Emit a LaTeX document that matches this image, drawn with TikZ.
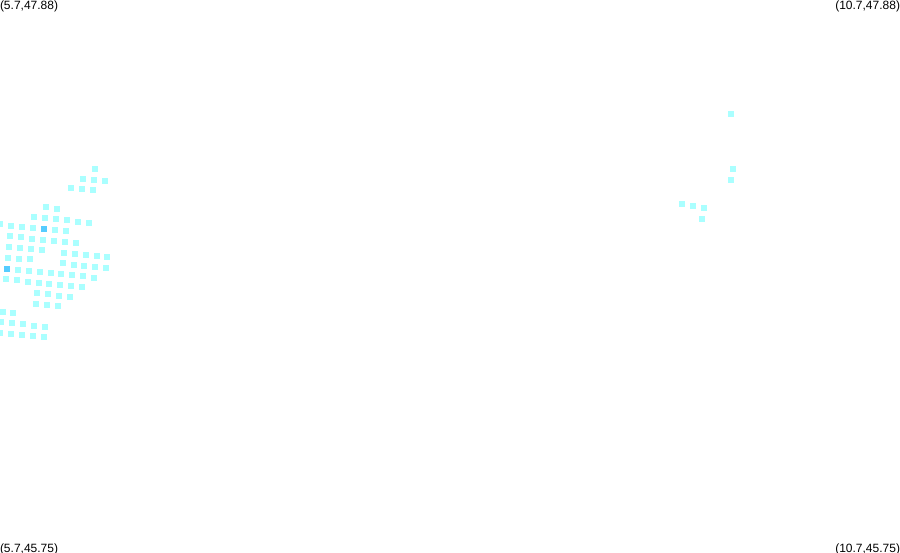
\documentclass[tikz,border=0pt]{standalone}
\usepackage{fontspec}
\setmainfont{Liberation Sans}
\definecolor{cellLight}{HTML}{AAFFFF}
\definecolor{cellDark}{HTML}{55CCFF}
\tikzset{
  cell/.style={fill=cellLight,draw=none},
  darkcell/.style={fill=cellDark,draw=none},
  corner/.style={inner sep=0pt,outer sep=0pt,font=\fontsize{12pt}{12pt}\selectfont,text=black}
}
\newcommand{\cellAt}[3][cell]{\fill[#1] (#2-3,#3-3) rectangle ++(6,6);}
\begin{document}
\begin{tikzpicture}[x=1pt,y=-1pt]
\useasboundingbox (0,0) rectangle (900,552);
\clip (0,0) rectangle (900,552);
\foreach \px/\py in {95/169,83/179,94/180,105/181,71/188,82/189,93/190,
  46/207,57/209,34/217,45/218,56/219,67/220,78/222,89/223,0/224,11/226,22/227,33/228,
  55/230,66/231,10/236,21/237,32/239,43/240,54/241,65/242,76/243,
  9/247,20/248,31/249,42/250,8/258,19/259,30/259,
  64/253,75/254,86/255,97/256,107/257,63/263,74/265,84/266,95/267,106/268,
  18/270,29/271,40/272,51/273,61/274,72/275,83/276,94/278,
  6/279,17/280,28/282,39/283,49/284,60/285,71/286,82/287,
  37/293,48/294,59/296,70/297,36/304,47/305,58/306,
  3/312,13/313,1/322,12/323,23/324,34/326,45/327,
  0/333,11/334,22/335,33/336,44/337,
  731/114,733/169,731/180,682/204,693/206,704/208,702/219}
  {\cellAt{\px}{\py}}
\cellAt[darkcell]{44}{229}
\cellAt[darkcell]{7}{269}
\node[corner,anchor=base west] (tl) at (0,9) {(5.7,47.88)};
\node[corner,anchor=base east] (tr) at (900,9) {(10.7,47.88)};
\node[corner,anchor=base west] (bl) at (0,552) {(5.7,45.75)};
\node[corner,anchor=base east] (br) at (900,552) {(10.7,45.75)};
\end{tikzpicture}
\end{document}
